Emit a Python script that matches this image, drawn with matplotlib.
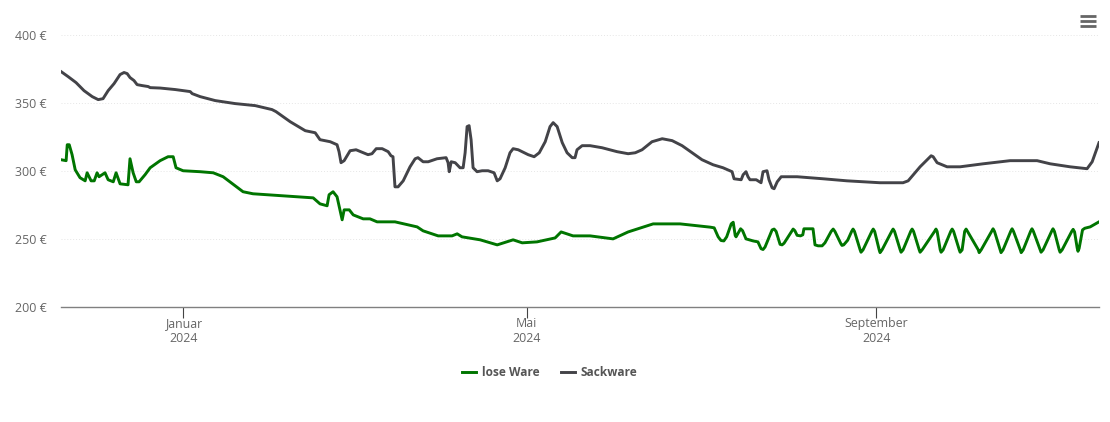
"""
This module draws how the price of the two kinds of goods behaved through one year.
"""

import matplotlib.pyplot as plt
import pandas as pd
from matplotlib.lines import Line2D

# Days counted from the first of January 2024
start_date = pd.Timestamp("2024-01-01")

# Sackware: (day, price)
sack_data = [
    (-43.0, 372.8), (-40.5, 369.1), (-37.7, 364.7), (-34.9, 358.8), (-32.0, 354.4), (-29.9, 352.2),
    (-28.2, 352.9), (-26.4, 358.8), (-24.3, 364.0), (-22.2, 370.6), (-20.8, 372.1), (-19.7, 371.3),
    (-18.7, 368.4), (-17.3, 366.2), (-16.2, 363.2), (-14.4, 362.5), (-12.3, 361.8), (-11.6, 361.0),
    (-8.1, 360.7), (-2.8, 359.6), (2.5, 358.1), (3.2, 356.6), (6.0, 354.4), (11.3, 351.5),
    (18.3, 349.3), (25.4, 347.8), (31.3, 344.9), (32.7, 343.4), (37.7, 336.0), (43.0, 329.4),
    (46.5, 327.9), (48.2, 322.8), (51.8, 321.3), (54.2, 319.1), (54.9, 314.0), (55.6, 305.9),
    (56.7, 307.4), (58.8, 314.7), (60.9, 315.4), (65.1, 311.8), (66.5, 312.5), (68.0, 316.2),
    (70.1, 316.2), (72.2, 314.0), (73.2, 311.0), (73.9, 310.3), (74.6, 288.2), (75.7, 288.2),
    (77.5, 292.6), (79.9, 302.9), (81.7, 308.8), (82.7, 309.6), (84.5, 306.6), (86.3, 306.6),
    (89.4, 308.8), (92.6, 309.6), (93.3, 305.9), (93.7, 299.3), (94.4, 306.6), (95.8, 305.9),
    (97.5, 302.2), (98.6, 302.2), (99.3, 313.2), (100.0, 332.4), (100.7, 333.1), (101.4, 322.8),
    (102.1, 302.2), (103.5, 299.3), (105.3, 300.0), (107.4, 300.0), (109.5, 298.5), (110.6, 292.6),
    (111.6, 294.1), (113.4, 302.2), (115.1, 313.2), (116.2, 316.2), (118.0, 315.4), (121.5, 311.8),
    (123.6, 310.3), (125.4, 313.2), (127.5, 321.3), (129.2, 332.4), (130.3, 335.3), (131.7, 332.4),
    (133.5, 320.6), (135.2, 313.2), (137.0, 309.6), (138.0, 309.6), (138.7, 315.4), (140.5, 318.4),
    (143.3, 318.4), (147.5, 316.9), (152.8, 314.0), (156.7, 312.5), (159.2, 313.2), (161.6, 315.4),
    (165.1, 321.3), (168.7, 323.5), (172.2, 322.1), (175.7, 318.4), (182.7, 308.1), (186.6, 304.4),
    (190.1, 302.2), (193.3, 299.3), (194.0, 294.1), (196.5, 293.4), (197.2, 297.1), (198.2, 299.3),
    (198.9, 295.6), (199.6, 293.4), (201.8, 293.4), (203.5, 291.2), (204.2, 299.3), (205.6, 300.0),
    (206.3, 293.4), (207.4, 287.5), (208.1, 286.8), (209.2, 291.9), (210.6, 295.6), (216.2, 295.6),
    (225.4, 294.1), (233.8, 292.6), (245.4, 291.2), (253.5, 291.2), (255.3, 292.6), (259.5, 302.9),
    (263.4, 311.0), (264.1, 310.3), (265.5, 305.9), (269.0, 302.9), (273.6, 302.9), (281.7, 305.1),
    (291.2, 307.4), (300.7, 307.4), (305.3, 305.1), (312.3, 302.9), (318.3, 301.5), (320.1, 306.6),
    (322.5, 320.6),
]

# lose Ware: (day, price)
lose_data = [
    (-43.0, 308.1), (-41.2, 307.4), (-40.8, 319.1), (-40.1, 319.1), (-39.1, 311.8), (-38.0, 300.7),
    (-36.3, 294.9), (-34.5, 292.6), (-33.8, 298.5), (-32.4, 292.6), (-31.3, 292.6), (-30.3, 298.5),
    (-29.6, 295.6), (-27.5, 298.5), (-26.4, 293.4), (-24.6, 291.9), (-23.6, 298.5), (-22.2, 290.4),
    (-19.4, 289.7), (-18.7, 308.8), (-17.6, 298.5), (-16.5, 291.9), (-15.5, 291.9), (-13.4, 297.1),
    (-11.6, 302.2), (-8.1, 307.4), (-5.3, 310.3), (-3.5, 310.3), (-2.5, 302.2), (0.0, 300.0),
    (6.0, 299.3), (10.6, 298.5), (14.1, 295.6), (21.1, 284.6), (24.6, 283.1), (35.2, 281.6),
    (45.8, 280.1), (48.2, 275.7), (50.7, 274.3), (51.4, 282.4), (52.8, 284.6), (54.2, 280.9),
    (56.0, 264.0), (56.7, 271.3), (58.5, 271.3), (59.9, 267.6), (63.4, 264.7), (65.8, 264.7),
    (68.3, 262.5), (74.6, 262.5), (82.4, 258.8), (84.5, 255.9), (89.8, 252.2), (94.7, 252.2),
    (96.5, 253.7), (98.2, 251.5), (104.6, 249.3), (110.6, 245.6), (116.2, 249.3), (119.4, 247.1),
    (124.6, 247.8), (131.0, 250.7), (133.1, 255.1), (137.3, 252.2), (143.3, 252.2), (151.4, 250.0),
    (156.7, 255.1), (165.5, 261.0), (175.0, 261.0), (185.6, 258.6), (187.0, 258.1), (188.4, 251.5),
    (189.4, 248.8), (190.4, 248.5), (191.4, 251.5), (193.0, 261.0), (193.7, 262.2), (194.4, 252.5),
    (194.7, 251.5), (196.3, 257.4), (197.0, 256.0), (198.2, 250.0), (200.7, 248.5), (202.4, 247.8),
    (203.5, 242.8), (204.2, 242.2), (204.9, 244.0), (207.4, 256.6), (208.1, 257.2), (208.8, 255.5),
    (210.2, 246.0), (210.9, 245.6), (211.6, 246.8), (214.8, 257.2), (215.4, 256.0), (216.2, 252.6),
    (217.4, 252.2), (218.2, 253.0), (218.6, 257.4), (221.8, 257.4), (222.5, 245.6), (223.6, 244.9),
    (225.0, 244.9), (226.0, 247.1), (228.2, 255.5), (228.9, 257.2), (229.5, 255.5), (231.6, 246.5),
    (232.0, 245.2), (232.6, 245.6), (234.0, 249.0),
    (235.4, 255.5), (235.9, 257.2), (236.4, 255.5), (238.4, 241.9), (238.7, 240.2), (239.4, 241.9),
    (242.5, 255.5), (243.0, 257.2), (243.5, 255.5), (245.1, 241.9), (245.4, 239.9), (246.1, 241.9),
    (249.5, 255.5), (250.0, 257.2), (250.5, 255.5), (252.5, 241.9), (252.8, 240.2), (253.5, 241.9),
    (256.2, 255.5), (256.7, 257.2), (257.2, 255.5), (259.2, 241.9), (259.5, 240.2), (260.2, 241.9),
    (264.6, 255.5), (265.1, 257.2), (265.5, 255.5), (266.6, 241.9), (266.9, 240.2), (267.6, 241.9),
    (270.3, 255.5), (270.8, 257.2), (271.3, 255.5), (273.3, 241.9), (273.6, 240.2), (274.3, 241.9),
    (275.2, 255.5), (275.7, 257.2), (276.2, 255.5), (280.0, 241.9), (280.3, 239.9), (281.0, 241.9),
    (284.7, 255.5), (285.2, 257.4), (285.7, 255.5), (287.7, 241.9), (288.0, 239.9), (288.7, 241.9),
    (291.4, 255.5), (291.9, 257.4), (292.4, 255.5), (294.8, 241.9), (295.1, 239.9), (295.8, 241.9),
    (298.4, 255.5), (298.9, 257.4), (299.4, 255.5), (301.8, 241.9), (302.1, 240.2), (302.8, 241.9),
    (305.8, 255.5), (306.3, 257.4), (306.8, 255.5), (308.5, 241.9), (308.8, 240.2), (309.5, 241.9),
    (312.9, 255.5), (313.4, 257.0), (313.9, 255.1), (314.8, 243.5), (315.1, 240.9), (315.5, 243.0),
    (316.1, 250.0), (316.7, 256.6), (317.5, 257.8), (319.4, 258.8), (322.5, 262.5),
]

sack = pd.DataFrame(sack_data, columns=["day", "price"])
lose = pd.DataFrame(lose_data, columns=["day", "price"])
sack["date"] = start_date + pd.to_timedelta(sack["day"], unit="D")
lose["date"] = start_date + pd.to_timedelta(lose["day"], unit="D")

# Initialize the figure, the axes fill the same box as in the picture
fig, ax = plt.subplots(figsize=(11.1, 4.22), dpi=100)
fig.subplots_adjust(left=61 / 1110, right=1099 / 1110, top=1 - 34.5 / 422, bottom=1 - 307 / 422)

# Create line objects for each type of data
ax.plot(lose["date"], lose["price"], color="#007500", linewidth=2.1, solid_joinstyle="round", label="lose Ware")
ax.plot(sack["date"], sack["price"], color="#434348", linewidth=2.1, solid_joinstyle="round", label="Sackware")

# Adjust axis limits
ax.set_xlim(start_date + pd.Timedelta(days=-43), start_date + pd.Timedelta(days=322.5))
ax.set_ylim(200, 400)

# Set ticks and their labels
ax.set_yticks([200, 250, 300, 350, 400])
ax.set_yticklabels(["200 €", "250 €", "300 €", "350 €", "400 €"], fontfamily="Open Sans", fontsize=8.9, color="#666666")
ax.set_xticks([pd.Timestamp("2024-01-01"), pd.Timestamp("2024-05-01"), pd.Timestamp("2024-09-01")])
ax.set_xticklabels(["Januar\n2024", "Mai\n2024", "September\n2024"], fontfamily="Open Sans", fontsize=8.9, color="#666666")
ax.tick_params(axis="y", length=0, pad=10)
ax.tick_params(axis="x", length=8, width=0.8, color="#444444", pad=-1)

# Only dotted lines and the bottom line stay from the frame
ax.grid(axis="y", color="#e6e6e6", linewidth=0.7, linestyle=(0, (1, 2)))
ax.set_axisbelow(True)
ax.spines["top"].set_visible(False)
ax.spines["left"].set_visible(False)
ax.spines["right"].set_visible(False)
ax.spines["bottom"].set_color("#808080")
ax.spines["bottom"].set_linewidth(1.0)

# Adding legend
ax.legend(
    loc="center",
    bbox_to_anchor=(550 / 1110, 1 - 372.5 / 422),
    bbox_transform=fig.transFigure,
    ncol=2,
    frameon=False,
    handlelength=1.17,
    handletextpad=0.5,
    columnspacing=1.75,
    prop={"family": "Open Sans", "weight": "bold", "size": 8.6},
    labelcolor="#555555",
)

# Add menu icon
for y_pixel in [16, 21, 26]:
    fig.add_artist(
        Line2D(
            [1080 / 1110, 1096 / 1110],
            [1 - y_pixel / 422, 1 - y_pixel / 422],
            color="#666666",
            linewidth=2.0,
            solid_capstyle="butt",
        )
    )

fig.savefig("out.png", dpi=100)
